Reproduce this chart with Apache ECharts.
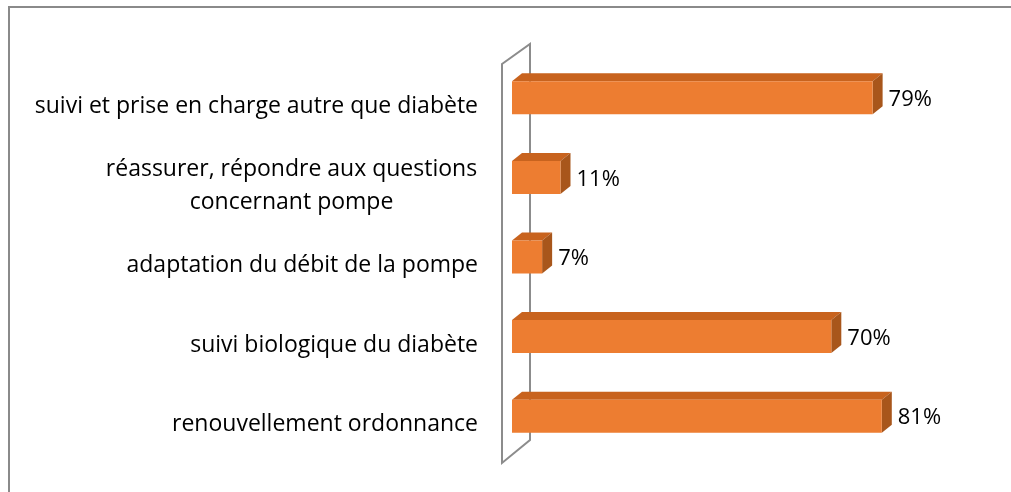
<!DOCTYPE html>
<html>
<head>
<meta charset="utf-8">
<script src="https://cdn.jsdelivr.net/npm/echarts@6/dist/echarts.min.js"></script>
<style>
  html, body { margin: 0; padding: 0; background: #fff; }
  #chart { width: 1011px; height: 492px; }
</style>
</head>
<body>
<div id="chart"></div>
<script>
// catégories, de haut en bas
var categories = [
  'suivi et prise en charge autre que diabète',
  'réassurer, répondre aux questions\nconcernant pompe',
  'adaptation du débit de la pompe',
  'suivi biologique du diabète',
  'renouvellement ordonnance'
];
var values = [79, 11, 7, 70, 81];

var chart = echarts.init(document.getElementById('chart'));

var labelFont = '23px "Open Sans"';
var valueFont = '22px "Open Sans"';

// couleurs des faces de la barre 3D
var faceFront = '#ED7D31';
var faceTop = '#C8631E';
var faceSide = '#A8561B';
var DX = 10, DY = 8;

// largeur d'une ligne de texte (pour centrer les libellés sur deux lignes)
var ctx = document.createElement('canvas').getContext('2d');
ctx.font = labelFont;
function textWidth (s) {
  return Math.ceil(ctx.measureText(s).width) + 1;
}

function renderBar (params, api) {
  var cat = api.value(1);
  var v = api.value(0);
  var start = api.coord([0, cat]);
  var end = api.coord([v, cat]);
  var h = api.size([0, 1])[1] * 0.415;
  var x0 = start[0] + 2;
  var x1 = end[0];
  var y0 = start[1] - h / 2;
  var y1 = start[1] + h / 2;
  return {
    type: 'group',
    children: [
      {
        type: 'polygon',
        shape: { points: [[x0, y0], [x0 + DX, y0 - DY], [x1 + DX, y0 - DY], [x1, y0]] },
        style: { fill: faceTop }
      },
      {
        type: 'polygon',
        shape: { points: [[x1, y0], [x1 + DX, y0 - DY], [x1 + DX, y1 - DY], [x1, y1]] },
        style: { fill: faceSide }
      },
      {
        type: 'rect',
        shape: { x: x0, y: y0, width: x1 - x0, height: h },
        style: { fill: faceFront }
      },
      {
        type: 'text',
        x: x1 + DX + 6,
        y: start[1] + 2,
        style: {
          text: v + '%',
          fill: '#000',
          font: valueFont,
          verticalAlign: 'middle',
          align: 'left'
        }
      }
    ]
  };
}

// paroi 3D derrière les barres
function renderWall (params, api) {
  var cs = params.coordSys;
  var x = cs.x;
  var top = cs.y;
  var bottom = cs.y + cs.height;
  return {
    type: 'polygon',
    shape: {
      points: [[x - 8, top + 6], [x + 20, top - 14], [x + 20, bottom - 16], [x - 8, bottom + 7]]
    },
    style: { fill: 'none', stroke: '#8c8c8c', lineWidth: 2 }
  };
}

var option = {
  animation: false,
  backgroundColor: '#fff',
  grid: { left: 510, right: 42, top: 58, bottom: 36 },
  xAxis: { type: 'value', min: 0, max: 100, show: false },
  yAxis: {
    type: 'category',
    inverse: true,
    data: categories,
    axisLine: { show: false },
    axisTick: { show: false },
    splitLine: { show: false },
    axisLabel: {
      margin: 32,
      color: '#000',
      fontFamily: 'Open Sans',
      fontSize: 23,
      lineHeight: 33,
      align: 'right',
      padding: [17, 0, 0, 0],
      formatter: function (val) {
        var lines = val.split('\n');
        if (lines.length < 2) return val;
        return lines.map(function (l) { return '{c|' + l + '}'; }).join('\n');
      },
      rich: {
        c: {
          color: '#000',
          fontFamily: 'Open Sans',
          fontSize: 23,
          lineHeight: 33,
          align: 'center',
          width: textWidth('réassurer, répondre aux questions')
        }
      }
    }
  },
  graphic: [
    { type: 'line', shape: { x1: 8, y1: 7, x2: 1011, y2: 7 }, style: { stroke: '#8a8a8a', lineWidth: 2 } },
    { type: 'line', shape: { x1: 9, y1: 6, x2: 9, y2: 492 }, style: { stroke: '#8a8a8a', lineWidth: 2 } }
  ],
  series: [
    {
      type: 'custom',
      renderItem: renderWall,
      data: [[0, 0]],
      z: 1,
      silent: true
    },
    {
      type: 'custom',
      renderItem: renderBar,
      encode: { x: 0, y: 1 },
      data: values.map(function (v, i) { return [v, i]; }),
      z: 2
    }
  ]
};

// attendre le chargement de la police avant de mesurer
(document.fonts ? document.fonts.load(labelFont) : Promise.resolve()).then(function () {
  ctx.font = labelFont;
  option.yAxis.axisLabel.rich.c.width = textWidth('réassurer, répondre aux questions');
  chart.setOption(option);
});
</script>
</body>
</html>
